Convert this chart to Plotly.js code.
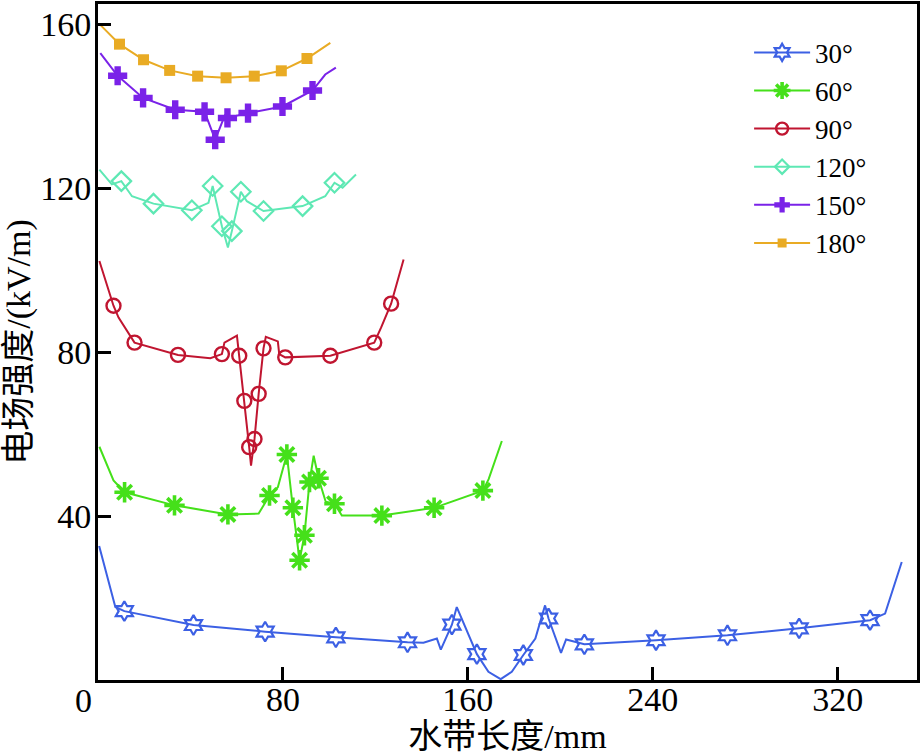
<!DOCTYPE html>
<html>
<head>
<meta charset="utf-8">
<script src="https://cdn.plot.ly/plotly-3.0.1.min.js"></script>
<style>
  html, body { margin: 0; padding: 0; background: #ffffff; }
  #chart { width: 924px; height: 756px; }
</style>
</head>
<body>
<div id="chart"></div>
<script>
// ---- data ----
const seriesNames = ['30°', '60°', '90°', '120°', '150°', '180°'];

const x30 = [0.5, 7.5, 11.4, 41.3, 72.3, 102.9, 133.9, 140.8, 146.6, 148.3, 153.1, 155.2, 163.9, 168.9, 174.2, 179.0, 184.0, 189.2, 193.4, 194.9, 200.3, 202.5, 210.4, 241.4, 272.3, 303.3, 334.0, 340.5, 347.7];
const y30 = [32.7, 17.8, 16.8, 13.4, 11.8, 10.4, 9.2, 9.1, 10.1, 7.4, 13.5, 17.8, 6.3, 2.0, 0.2, 2.0, 6.1, 10.1, 18.2, 15.0, 6.6, 9.9, 8.7, 9.7, 10.9, 12.6, 14.6, 16.2, 28.8];
const m30 = [2, 3, 4, 5, 6, 10, 12, 16, 19, 22, 23, 24, 25, 26];

const x60 = [0.6, 6.7, 11.5, 33.1, 56.2, 69.5, 74.2, 77.8, 81.7, 84.3, 87.2, 89.3, 91.5, 93.3, 95.4, 98.5, 102.3, 105.5, 122.8, 145.4, 166.5, 169.0, 174.7];
const y60 = [56.9, 48.7, 45.8, 42.6, 40.4, 40.6, 45.0, 47.0, 55.0, 42.0, 29.2, 35.3, 48.3, 54.7, 49.2, 43.5, 43.0, 40.1, 40.1, 42.0, 46.2, 49.0, 58.3];
const m60 = [2, 3, 4, 6, 8, 9, 10, 11, 12, 14, 16, 18, 19, 20];

const x90 = [0.6, 6.7, 8.9, 15.8, 34.6, 48.6, 53.6, 54.7, 60.1, 61.1, 63.3, 65.4, 66.2, 67.7, 69.5, 71.6, 72.6, 77.8, 78.4, 81.0, 100.5, 119.5, 122.5, 126.8, 132.2];
const y90 = [102.2, 91.3, 88.4, 82.3, 79.3, 78.5, 79.5, 82.3, 84.0, 79.1, 68.1, 56.8, 52.3, 58.8, 69.8, 80.9, 83.7, 82.6, 79.5, 78.7, 79.1, 82.3, 86.0, 91.8, 102.6];
const m90 = [1, 3, 4, 6, 9, 10, 11, 13, 14, 15, 19, 20, 21, 23];

const x120 = [0.6, 6.0, 10.1, 14.7, 24.0, 40.6, 47.8, 49.6, 53.6, 56.2, 57.9, 61.8, 64.4, 71.6, 88.5, 98.3, 102.3, 105.8, 111.6];
const y120 = [124.5, 120.9, 121.7, 118.0, 116.2, 114.6, 116.4, 120.5, 110.7, 105.5, 109.5, 119.1, 116.8, 114.4, 115.6, 118.0, 121.3, 120.1, 123.3];
const m120 = [2, 4, 5, 7, 8, 10, 11, 13, 14, 16];

const x150 = [1.0, 8.5, 19.5, 33.4, 46.1, 50.7, 55.0, 56.0, 64.9, 79.8, 92.8, 98.3, 102.9];
const y150 = [152.9, 147.4, 142.0, 139.1, 138.6, 131.8, 137.9, 137.1, 138.3, 139.9, 143.8, 147.7, 149.4];
const m150 = [1, 2, 3, 4, 5, 7, 8, 9, 10];

const x180 = [1.0, 9.3, 19.7, 31.0, 43.1, 55.4, 67.6, 79.3, 90.4, 100.5];
const y180 = [159.8, 155.1, 151.3, 148.7, 147.3, 146.9, 147.3, 148.6, 151.6, 155.4];
const m180 = [1, 2, 3, 4, 5, 6, 7, 8];

const xTicks = [0, 80, 160, 240, 320];
const yTicks = [0, 40, 80, 120, 160];

// ---- styles ----
const styles = [
  { color: '#3c60e4', symbol: 'hexagram-open', size: 15, lsize: 13, mlw: 2.2 },
  { color: '#45e01a', symbol: 'asterisk-open', size: 17, lsize: 14, mlw: 3.6 },
  { color: '#c01530', symbol: 'circle-open', size: 14, lsize: 12, mlw: 2.4 },
  { color: '#5ee8b4', symbol: 'diamond-open', size: 15, lsize: 11, mlw: 2.2 },
  { color: '#7a22e8', symbol: 'cross', size: 16, lsize: 13, mlw: 0 },
  { color: '#e9ab24', symbol: 'square', size: 11, lsize: 9, mlw: 0 }
];

const xs = [x30, x60, x90, x120, x150, x180];
const ys = [y30, y60, y90, y120, y150, y180];
const ms = [m30, m60, m90, m120, m150, m180];

const traces = [];
for (let i = 0; i < 6; i++) {
  const s = styles[i];
  traces.push({
    type: 'scatter', mode: 'lines', x: xs[i], y: ys[i],
    line: { color: s.color, width: 2 }, showlegend: false, hoverinfo: 'skip'
  });
  traces.push({
    type: 'scatter', mode: 'markers',
    x: ms[i].map(k => xs[i][k]), y: ms[i].map(k => ys[i][k]),
    marker: { color: s.color, symbol: s.symbol, size: s.size,
              line: { color: s.color, width: s.mlw } },
    showlegend: false
  });
}
// legend entries
for (let i = 0; i < 6; i++) {
  const s = styles[i];
  traces.push({
    type: 'scatter', mode: 'lines+markers', name: seriesNames[i],
    x: [null], y: [null],
    line: { color: s.color, width: 2 },
    marker: { color: s.color, symbol: s.symbol, size: s.lsize,
              line: { color: s.color, width: s.mlw } }
  });
}

const FONT = 'Liberation Serif, Times New Roman, Noto Sans CJK SC, serif';

const layout = {
  width: 924, height: 756,
  margin: { l: 98, r: 7, t: 4, b: 76 },
  paper_bgcolor: '#ffffff', plot_bgcolor: '#ffffff',
  font: { family: FONT, size: 34, color: '#000000' },
  showlegend: true,
  legend: {
    x: 0.795, y: 0.964, xanchor: 'left', yanchor: 'top',
    bgcolor: 'rgba(0,0,0,0)', borderwidth: 0,
    font: { family: FONT, size: 27, color: '#000000' },
    itemwidth: 56, tracegroupgap: 0
  },
  xaxis: {
    range: [0, 354.3], tickmode: 'array', tickvals: xTicks.slice(1),
    ticks: 'inside', ticklen: 13, tickwidth: 3, tickcolor: '#000',
    showline: true, linecolor: '#000', linewidth: 3, mirror: true,
    showgrid: false, zeroline: false, ticklabelstandoff: -13,
    tickfont: { family: FONT, size: 34 },
    title: { text: '水带长度/mm', font: { family: FONT, size: 34 }, standoff: 4 }
  },
  yaxis: {
    range: [0, 164.9], tickmode: 'array', tickvals: yTicks.slice(1),
    ticks: 'inside', ticklen: 13, tickwidth: 3, tickcolor: '#000',
    showline: true, linecolor: '#000', linewidth: 3, mirror: true,
    showgrid: false, zeroline: false, ticklabelstandoff: -3,
    tickfont: { family: FONT, size: 34 },
    title: { text: '电场强度/(kV/m)', font: { family: FONT, size: 34 }, standoff: 2 }
  },
  annotations: [{
    text: String(yTicks[0]), xref: 'paper', yref: 'paper',
    x: -0.005, y: -0.03, xanchor: 'right', yanchor: 'middle',
    showarrow: false, font: { family: FONT, size: 34, color: '#000' }
  }]
};

Plotly.newPlot('chart', traces, layout, { staticPlot: true, displayModeBar: false });
</script>
</body>
</html>
